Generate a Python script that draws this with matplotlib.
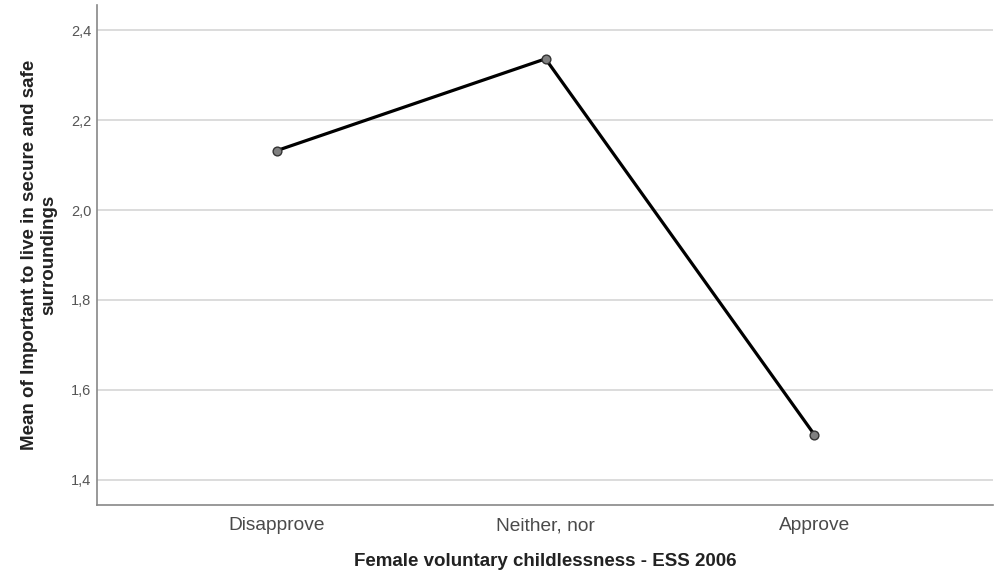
import matplotlib.pyplot as plt

categories = ['Disapprove', 'Neither, nor', 'Approve']
means = [2.132, 2.336, 1.501]
yticks = [1.4, 1.6, 1.8, 2.0, 2.2, 2.4]
ytick_labels = ['1,4', '1,6', '1,8', '2,0', '2,2', '2,4']

plt.rcParams['font.family'] = ['Liberation Sans', 'DejaVu Sans']

fig = plt.figure(figsize=(10.04, 5.79), dpi=100)
ax = fig.add_axes([97 / 1004, 1 - 505 / 579, (993 - 97) / 1004, 500 / 579])

x = list(range(len(categories)))
ax.plot(x, means, color='black', linewidth=2.3, zorder=3)
ax.plot(x, means, linestyle='none', marker='o', markersize=6.3,
        markerfacecolor='#808080', markeredgecolor='#333333',
        markeredgewidth=1, zorder=4)

ax.set_xlim(-0.669, 2.665)
ax.set_ylim(1.3444, 2.4556)
ax.set_xticks(x)
ax.set_xticklabels(categories, fontsize=13.8, color='#4a4a4a')
ax.set_yticks(yticks)
ax.set_yticklabels(ytick_labels, fontsize=10.5, color='#555555')
ax.tick_params(axis='both', length=0)
ax.tick_params(axis='x', pad=9)
ax.tick_params(axis='y', pad=4)

ax.grid(axis='y', color='#d9d9d9', linewidth=1.3)
ax.set_axisbelow(True)
for side in ['top', 'right']:
    ax.spines[side].set_visible(False)
for side in ['left', 'bottom']:
    ax.spines[side].set_color('#888888')
    ax.spines[side].set_linewidth(1.2)

ax.set_xlabel('Female voluntary childlessness - ESS 2006', fontsize=13.5,
              fontweight='bold', color='#222222', labelpad=13)
ax.set_ylabel('Mean of Important to live in secure and safe\nsurroundings',
              fontsize=13.5, fontweight='bold', color='#222222',
              labelpad=10, linespacing=1.15)

fig.savefig('out.png', dpi=100)
